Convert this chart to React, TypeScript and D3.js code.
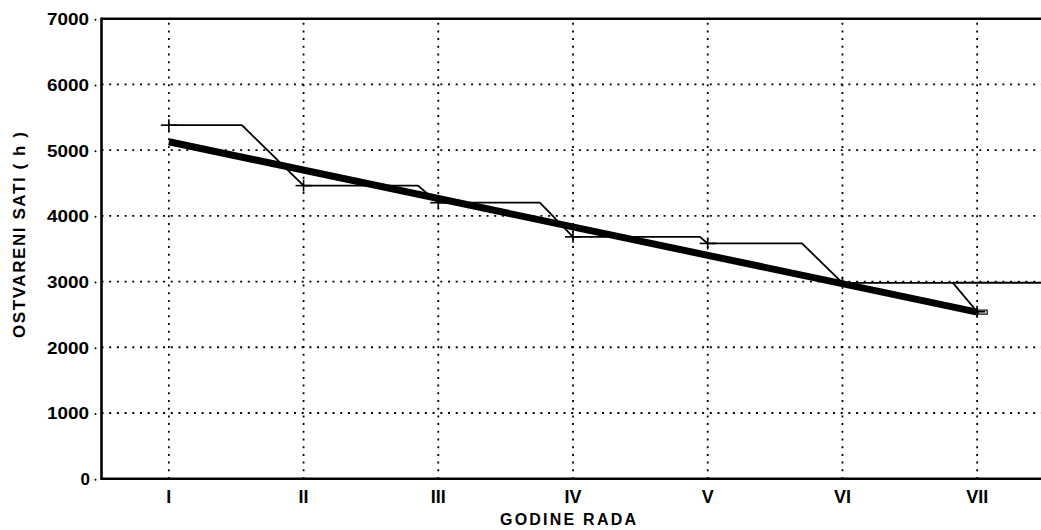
import React, { useEffect, useRef } from "react";
import * as d3 from "d3";

const categories = ["I", "II", "III", "IV", "V", "VI", "VII"];
const hours = [5380, 4460, 4200, 3680, 3580, 2980, 2540];
// x position (in category index units) where each level starts to fall toward the next point
const stepBreaks = [0.542, 1.849, 2.754, 3.942, 4.7, 5.82];
const yTicks = [0, 1000, 2000, 3000, 4000, 5000, 6000, 7000];
const gridY = [1000, 2000, 3000, 4000, 5000, 6000];
const xTitle = "GODINE   RADA";
const yTitle = "OSTVARENI  SATI ( h )";

const W = 1041;
const H = 530;
const FONT = "'Liberation Sans', Arial, sans-serif";

export default function App() {
  const ref = useRef<SVGSVGElement | null>(null);

  useEffect(() => {
    document.body.style.margin = "0";
    const svg = d3.select(ref.current);
    svg.selectAll("*").remove();

    const left = 101.5;
    const right = 1044.5;
    const top = 18.7;
    const bottom = 478.7;

    const xb = d3.scaleBand<string>().domain(categories).range([left, right]).padding(0);
    const bw = xb.bandwidth();
    const xi = d3
      .scaleLinear()
      .domain([-0.5, categories.length - 0.5])
      .range([left, right]);
    const y = d3.scaleLinear().domain([0, 7000]).range([bottom, top]);

    const g = svg.append("g");

    // grid
    const dash = "2 5.7";
    g.selectAll("line.gy")
      .data(gridY)
      .join("line")
      .attr("x1", left)
      .attr("x2", W)
      .attr("y1", (d) => y(d))
      .attr("y2", (d) => y(d))
      .attr("stroke", "#000")
      .attr("stroke-width", 1.8)
      .attr("stroke-dasharray", dash);
    g.selectAll("line.gx")
      .data(categories)
      .join("line")
      .attr("x1", (d) => (xb(d) as number) + bw / 2)
      .attr("x2", (d) => (xb(d) as number) + bw / 2)
      .attr("y1", top + 4)
      .attr("y2", bottom)
      .attr("stroke", "#000")
      .attr("stroke-width", 1.8)
      .attr("stroke-dasharray", dash);

    // axes frame
    g.append("line").attr("x1", left).attr("x2", left).attr("y1", top - 1.3).attr("y2", bottom + 1.3)
      .attr("stroke", "#000").attr("stroke-width", 2.6);
    g.append("line").attr("x1", left).attr("x2", W).attr("y1", top).attr("y2", top)
      .attr("stroke", "#000").attr("stroke-width", 2.6);
    g.append("line").attr("x1", left).attr("x2", W).attr("y1", bottom).attr("y2", bottom)
      .attr("stroke", "#000").attr("stroke-width", 2.6);

    // y ticks (dots) and labels
    g.selectAll("circle.yt")
      .data(yTicks)
      .join("circle")
      .attr("cx", 95.5)
      .attr("cy", (d) => y(d) + 1)
      .attr("r", 1)
      .attr("fill", "#000");
    g.selectAll("text.yl")
      .data(yTicks)
      .join("text")
      .attr("x", (d) => (d === 0 ? 90 : 47))
      .attr("y", (d) => y(d) + 6.5)
      .attr("text-anchor", (d) => (d === 0 ? "end" : "start"))
      .attr("textLength", (d) => (d === 0 ? null : 42) as any)
      .attr("lengthAdjust", "spacingAndGlyphs")
      .attr("font-family", FONT)
      .attr("font-weight", "bold")
      .attr("font-size", 17)
      .text((d) => String(d));

    // x labels
    g.selectAll("text.xl")
      .data(categories)
      .join("text")
      .attr("x", (d) => (xb(d) as number) + bw / 2)
      .attr("y", 503)
      .attr("text-anchor", "middle")
      .attr("font-family", FONT)
      .attr("font-weight", "bold")
      .attr("font-size", 18)
      .text((d) => d);

    // titles
    g.append("text")
      .attr("x", 500)
      .attr("y", 525)
      .attr("textLength", 136)
      .attr("lengthAdjust", "spacing")
      .attr("font-family", FONT)
      .attr("font-weight", "bold")
      .attr("font-size", 16)
      .text(xTitle);
    g.append("text")
      .attr("transform", `translate(25,338) rotate(-90)`)
      .attr("x", 0)
      .attr("y", 0)
      .attr("textLength", 206)
      .attr("lengthAdjust", "spacing")
      .attr("font-family", FONT)
      .attr("font-weight", "bold")
      .attr("font-size", 17)
      .text(yTitle);

    // thin step line
    const pts: [number, number][] = [];
    hours.forEach((v, i) => {
      pts.push([i, v]);
      if (i < stepBreaks.length) pts.push([stepBreaks[i], v]);
    });
    const line = d3
      .line<[number, number]>()
      .x((d) => xi(d[0]))
      .y((d) => y(d[1]));
    g.append("path")
      .attr("d", line(pts))
      .attr("fill", "none")
      .attr("stroke", "#000")
      .attr("stroke-width", 1.8)
      .attr("stroke-linejoin", "round");
    // level of VI continues to the right border
    const last = hours.length - 2;
    g.append("path")
      .attr("d", line([[stepBreaks[last], hours[last]], [categories.length - 0.5, hours[last]]]))
      .attr("fill", "none")
      .attr("stroke", "#000")
      .attr("stroke-width", 2);

    // trend (least squares)
    const xs = hours.map((_, i) => i);
    const mx = d3.mean(xs) as number;
    const my = d3.mean(hours) as number;
    const sxy = d3.sum(xs, (xv, i) => (xv - mx) * (hours[i] - my));
    const sxx = d3.sum(xs, (xv) => (xv - mx) * (xv - mx));
    const slope = sxy / sxx;
    const icpt = my - slope * mx;
    const t0 = 0;
    const t1 = categories.length - 1;
    g.append("path")
      .attr("d", line([[t0, icpt + slope * t0], [t1, icpt + slope * t1]]))
      .attr("fill", "none")
      .attr("stroke", "#000")
      .attr("stroke-width", 7);
    g.append("rect")
      .attr("x", xi(t1) + 1)
      .attr("y", y(icpt + slope * t1) - 2)
      .attr("width", 9)
      .attr("height", 4)
      .attr("fill", "#fff")
      .attr("stroke", "#000")
      .attr("stroke-width", 1.2);

    // + markers
    const mk = g.selectAll("g.mk").data(hours).join("g");
    mk.append("line")
      .attr("x1", (_, i) => xi(i) - 8)
      .attr("x2", (_, i) => xi(i) + 8)
      .attr("y1", (d) => y(d))
      .attr("y2", (d) => y(d))
      .attr("stroke", "#000")
      .attr("stroke-width", 1.6);
    mk.append("line")
      .attr("x1", (_, i) => xi(i))
      .attr("x2", (_, i) => xi(i))
      .attr("y1", (d) => y(d) - 6)
      .attr("y2", (d) => y(d) + 6)
      .attr("stroke", "#000")
      .attr("stroke-width", 1.6);
  }, []);

  return (
    <svg
      ref={ref}
      width={W}
      height={H}
      style={{ display: "block", background: "#fff" }}
    />
  );
}
